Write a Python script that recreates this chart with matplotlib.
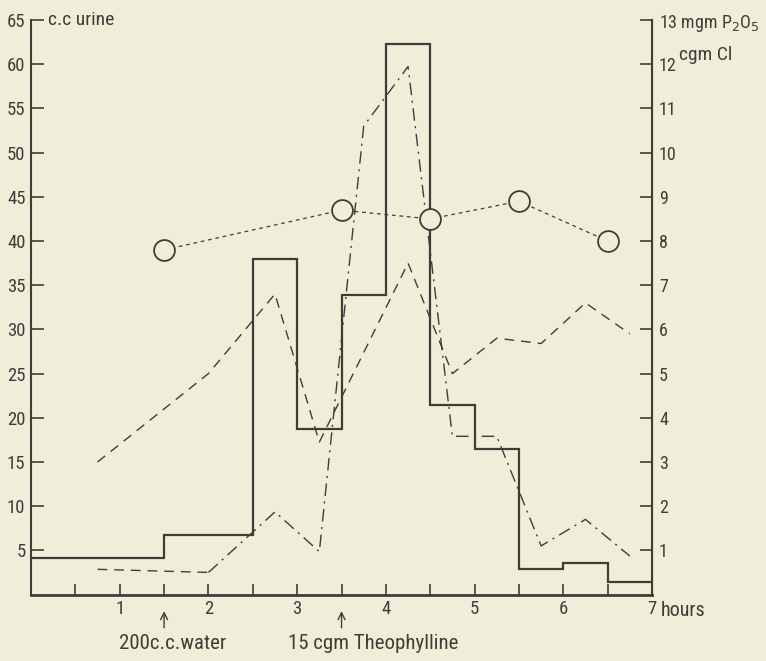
import matplotlib.pyplot as plt

# urine volume per collection period (c.c.), step histogram
edges = [0, 1.5, 2.5, 3.0, 3.5, 4.0, 4.5, 5.0, 5.5, 6.0, 6.5, 7.0]
urine = [4.1, 6.7, 38.0, 18.7, 33.9, 62.3, 21.5, 16.5, 2.85, 3.6, 1.45]

# dashed series (right axis units)
dash_x = [0.75, 2.0, 2.75, 3.25, 4.25, 4.75, 5.25, 5.75, 6.25, 6.75]
dash_y = [3.0, 5.0, 6.8, 3.45, 7.5, 5.0, 5.8, 5.68, 6.6, 5.9]

# dash-dot series (right axis units), first segment is drawn dashed
dd_x = [0.75, 2.0, 2.75, 3.25, 3.75, 4.25, 4.75, 5.25, 5.75, 6.25, 6.75]
dd_y = [0.57, 0.5, 1.87, 0.97, 10.6, 11.95, 3.58, 3.58, 1.1, 1.7, 0.87]

# circles on dotted line (right axis units)
circ_x = [1.5, 3.5, 4.5, 5.5, 6.5]
circ_y = [7.8, 8.7, 8.5, 8.9, 8.0]

left_ticks = [5, 10, 15, 20, 25, 30, 35, 40, 45, 50, 55, 60, 65]
right_ticks = list(range(1, 14))
x_ticks = [i * 0.5 for i in range(1, 15)]

bg = "#f0eed9"
ink = "#3e3e39"
plt.rcParams["font.family"] = ["Roboto Condensed", "DejaVu Sans Condensed",
                               "Liberation Sans Narrow", "DejaVu Sans"]

fig = plt.figure(figsize=(7.66, 6.61), dpi=100, facecolor=bg)
ax = fig.add_axes([0.0405, 0.1006, 0.8107, 0.869])
ax.set_facecolor(bg)
ax2 = ax.twinx()

ax.stairs(urine, edges, baseline=None, color=ink, linewidth=1.6)

ax2.plot(dash_x, dash_y, color=ink, linewidth=1.0, linestyle=(0, (7, 5)))
ax2.plot(dd_x[:2], dd_y[:2], color=ink, linewidth=1.0, linestyle=(0, (7, 5)))
ax2.plot(dd_x[1:], dd_y[1:], color=ink, linewidth=1.0, linestyle=(0, (9, 4, 1.5, 4)))
ax2.plot(circ_x, circ_y, color=ink, linewidth=0.9, linestyle=(0, (3, 3)),
         marker="o", markersize=15, markerfacecolor=bg, markeredgecolor=ink,
         markeredgewidth=1.3)

ax.set_xlim(0, 7)
ax.set_ylim(0, 65)
ax2.set_ylim(0, 13)

for a in (ax, ax2):
    a.spines["top"].set_visible(False)
    for s in a.spines.values():
        s.set_color(ink)
ax.spines["left"].set_linewidth(1.5)
ax.spines["bottom"].set_linewidth(2.0)
ax2.spines["right"].set_linewidth(1.5)
ax2.spines["left"].set_visible(False)
ax2.spines["bottom"].set_visible(False)

ax.set_yticks(left_ticks)
ax.set_yticklabels([str(v) for v in left_ticks])
ax.tick_params(axis="y", direction="in", length=9, width=1.2, colors=ink,
               labelsize=13.5, pad=4)

ax.set_xticks(x_ticks)
xlabels = [str(int(v)) if v == int(v) else "" for v in x_ticks]
ax.set_xticklabels(xlabels)
ax.tick_params(axis="x", direction="in", length=8, width=1.2, colors=ink,
               labelsize=13.5, pad=4)
ax.text(7.1, -0.027, "hours", transform=ax.get_xaxis_transform(),
        ha="left", va="center", fontsize=14.5, color=ink)

ax2.set_yticks(right_ticks)
rlabels = [str(v) for v in right_ticks]
rlabels[-1] = "13 mgm P$_2$O$_5$"
ax2.set_yticklabels(rlabels)
ax2.tick_params(axis="y", direction="in", length=9, width=1.2, colors=ink,
                labelsize=13, pad=5)
ax2.text(7.6, 12.2, "cgm Cl", fontsize=14, color=ink, ha="center",
         va="center", clip_on=False)

ax.text(0.19, 65, "c.c urine", fontsize=14, color=ink, ha="left",
        va="center", clip_on=False)

# dosing arrows under the time axis
for xpos, label, tx in [(1.5, "200c.c.water", 1.6), (3.5, "15 cgm Theophylline", 3.86)]:
    ax.annotate("", xy=(xpos, -0.029), xytext=(xpos, -0.058),
                xycoords=("data", "axes fraction"),
                textcoords=("data", "axes fraction"),
                arrowprops=dict(arrowstyle="->,head_length=0.5,head_width=0.25",
                                color=ink, lw=1.0, shrinkA=0, shrinkB=0))
    ax.text(tx, -0.085, label, transform=ax.get_xaxis_transform(),
            ha="center", va="center", fontsize=15, color=ink)

fig.savefig("out.png", dpi=100, facecolor=bg)
